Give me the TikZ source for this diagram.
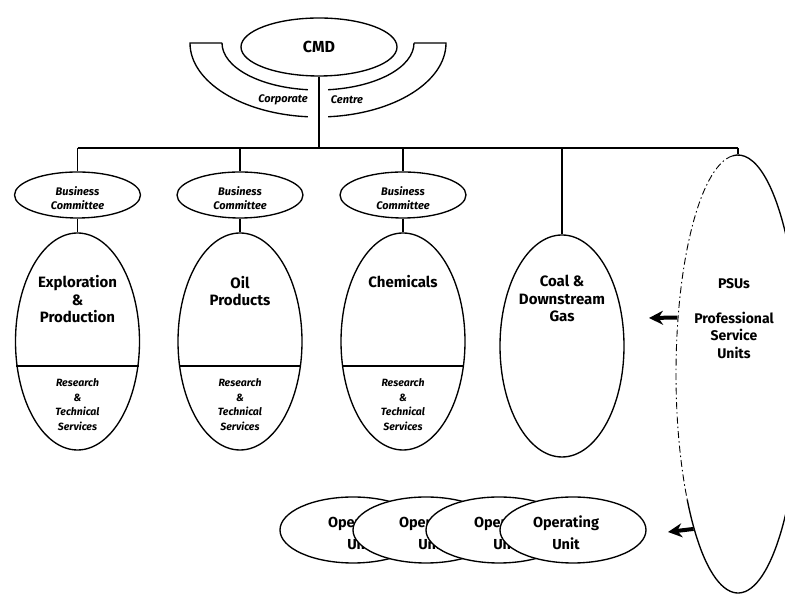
\documentclass[tikz,border=0pt]{standalone}
\usepackage{fontspec}
\setmainfont{Fira Sans}
\usetikzlibrary{shapes.geometric,arrows.meta,calc}

\begin{document}
\begin{tikzpicture}[x=1pt,y=1pt,
  line width=1.35pt,
  oval/.style={draw, ellipse, inner sep=0pt},
  committee/.style={oval, minimum width=126pt, minimum height=46pt},
  smallital/.style={font=\fontsize{11}{14}\selectfont\bfseries\itshape, align=center},
  division/.style={oval, minimum width=124pt, minimum height=217pt},
  bigtext/.style={font=\fontsize{15}{17.5}\selectfont\bfseries, align=center},
  psutext/.style={font=\fontsize{14}{17.5}\selectfont\bfseries, align=center},
  unit/.style={oval, fill=white, minimum width=146pt, minimum height=66pt},
  unittext/.style={font=\fontsize{14.5}{22}\selectfont\bfseries, align=center},
  bigarrow/.style={line width=4pt, -{Stealth[length=14pt,width=14pt]}},
]
\useasboundingbox (0,0) rectangle (785,596);

% Chief Managing Directors
\node[oval, minimum width=156pt, minimum height=58pt,
      font=\fontsize{16}{18}\selectfont\bfseries] (cmd) at (319,549) {CMD};

% Corporate centre: a horseshoe band open at the middle
\draw (222,553) -- (190,553) arc[start angle=180,end angle=265.5,x radius=128,y radius=74];
\draw (222,553) arc[start angle=180,end angle=264,x radius=96,y radius=47];
\draw (414,553) -- (446,553) arc[start angle=0,end angle=-85.5,x radius=128,y radius=74];
\draw (414,553) arc[start angle=0,end angle=-84,x radius=96,y radius=47];
\node[smallital] (corp) at (283,496) {Corporate};
\node[smallital] (centre) at (347,496) {Centre};

% main distribution bar
\coordinate (j0) at (319,448);
\coordinate (j1) at (77.5,448);
\coordinate (j2) at (240,448);
\coordinate (j3) at (403,448);
\coordinate (j4) at (562,448);
\coordinate (j5) at (738,448);
\draw (cmd.south) -- (j0);
\draw (j1) -- (j5);

% business committees
\node[committee] (bc1) at (77.5,401) {};
\node[committee] (bc2) at (240,401) {};
\node[committee] (bc3) at (403,401) {};
\foreach \i in {1,2,3}
  \node[smallital] (bt\i) at ([yshift=-3pt]bc\i.center) {Business\\Committee};

% divisions
\node[division] (d1) at (77.5,254.5) {};
\node[division] (d2) at (240,254.5) {};
\node[division] (d3) at (403,254.5) {};
\node[oval, minimum width=124pt, minimum height=222pt] (d4) at (562,250) {};

\foreach \i in {1,2,3} {
  \draw (j\i) -- (bc\i.north);
  \draw (bc\i.south) -- (d\i.north);
  \draw (d\i.202.93) -- (d\i.-22.93);
}
\draw (j4) -- (d4.north);

% division labels
\node[bigtext] (t1) at (77.5,296.5) {Exploration\\\&\\Production};
\node[bigtext] (t2) at (240,305) {Oil\\Products};
\node[bigtext] (t3) at (403,314) {Chemicals};
\node[bigtext] (t4) at (562,297.5) {Coal \&\\Downstream\\Gas};

\foreach \i in {1,2,3}
  \node[smallital, font=\fontsize{10.5}{14.5}\selectfont\bfseries\itshape] (r\i)
    at ([yshift=191.5pt]d\i.center |- 0,0) {Research\\\&\\Technical\\Services};

% professional service units
\node[ellipse, minimum width=124pt, minimum height=438pt, inner sep=0pt] (psu) at (738,222) {};
\draw ([shift={(215:62 and 219)}]psu.center)
  arc[start angle=215,end angle=455,x radius=62,y radius=219];
\draw[line width=0.9pt, dash pattern=on 7pt off 3pt on 1.5pt off 3pt]
  ([shift={(95:62 and 219)}]psu.center)
  arc[start angle=95,end angle=215,x radius=62,y radius=219];
\draw (j5) -- (psu.north);
\node[psutext] (pt) at (734,277.5) {PSUs\\[17pt]Professional\\Service\\Units};

% operating units, each one overlapping the previous
\foreach \i/\ux/\tx in {1/353/361, 2/426/432, 3/499/507, 4/573/566} {
  \node[unit] (u\i) at (\ux,66) {};
  \node[unittext] (ut\i) at (\tx,63) {Operating\\Unit};
}

% services flowing from the PSUs
\coordinate (h1) at (649,278);
\coordinate (h2) at (668,64);
\draw[bigarrow] (psu.137) -- (h1);
\draw[bigarrow] (psu.254.8) -- (h2);
\end{tikzpicture}
\end{document}
